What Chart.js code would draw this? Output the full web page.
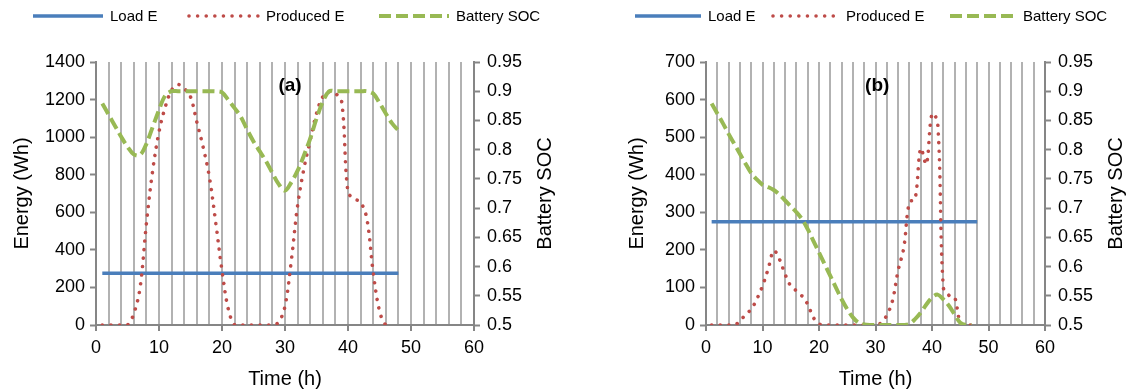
<!DOCTYPE html>
<html>
<head>
<meta charset="utf-8">
<script src="https://cdn.jsdelivr.net/npm/chart.js@4.4.1/dist/chart.umd.min.js"></script>
<style>
  body { margin: 0; background: #fff; }
  .panel { position: absolute; top: 0; height: 392px; }
</style>
</head>
<body>
<div class="panel" style="left:0;width:565px"><canvas id="chartA" width="565" height="392"></canvas></div>
<div class="panel" style="left:565px;width:564px"><canvas id="chartB" width="564" height="392"></canvas></div>
<script>
// x axis labels shown (gridlines every 2 h)
const timeTickLabels = [0, 10, 20, 30, 40, 50, 60];

// panel (a)
const hoursA = [1,2,3,4,5,6,7,8,9,10,11,12,13,14,15,16,17,18,19,20,21,22,23,24,
                25,26,27,28,29,30,31,32,33,34,35,36,37,38,39,40,41,42,43,44,45,46,47,48];
const loadA = [275,275,275,275,275,275,275,275,275,275,275,275,275,275,275,275,275,275,275,275,275,275,275,275,
               275,275,275,275,275,275,275,275,275,275,275,275,275,275,275,275,275,275,275,275,275,275,275,275];
const producedA = [0,0,0,0,0,60,200,540,823,1028,1161,1250,1280,1259,1215,1081,948,787,547,289,84,0,0,0,
                   0,0,0,0,15,100,342,636,832,983,1126,1215,1242,1233,1188,707,672,654,565,280,75,0,0];
const socA = [0.879,0.860,0.841,0.822,0.805,0.792,0.791,0.810,0.839,0.868,0.893,0.900,0.900,0.900,0.900,0.900,0.900,0.900,0.900,0.898,0.885,0.871,0.856,0.834,
              0.814,0.797,0.780,0.760,0.741,0.730,0.744,0.764,0.790,0.819,0.853,0.882,0.900,0.900,0.900,0.900,0.900,0.900,0.900,0.896,0.880,0.862,0.845,0.833];

// panel (b)
const hoursB = [1,2,3,4,5,6,7,8,9,10,11,12,13,14,15,16,17,18,19,20,21,22,23,24,
                25,26,27,28,29,30,31,32,33,34,35,36,37,38,39,40,41,42,43,44,45,46,47,48];
const loadB = [275,275,275,275,275,275,275,275,275,275,275,275,275,275,275,275,275,275,275,275,275,275,275,275,
               275,275,275,275,275,275,275,275,275,275,275,275,275,275,275,275,275,275,275,275,275,275,275,275];
const producedB = [0,0,0,0,0,10,28,42,69,104,149,198,175,135,104,91,77,55,20,3,0,0,0,0,
                   0,0,0,0,0,0,6,26,64,145,205,327,335,470,428,562,540,100,79,74,6,0,0];
const socB = [0.879,0.862,0.845,0.827,0.810,0.793,0.776,0.760,0.749,0.740,0.736,0.731,0.723,0.713,0.703,0.693,0.681,0.664,0.644,0.624,0.604,0.584,0.564,0.544,
              0.527,0.513,0.504,0.501,0.500,0.500,0.500,0.500,0.500,0.500,0.500,0.502,0.510,0.521,0.535,0.547,0.552,0.544,0.533,0.518,0.504,0.500,0.500];

const FONT = '"Liberation Sans", Arial, sans-serif';
Chart.defaults.font.family = FONT;
Chart.defaults.color = '#000';

const AXIS_GRAY = '#868686';
const GRID_GRAY = '#B2B2B2';

function points(xs, ys) {
    return ys.map((y, i) => ({ x: xs[i], y: y }));
}

// legend, panel tag and the right-hand axis title (reads bottom to top)
const sketchExtras = {
    id: 'sketchExtras',
    afterDraw(chart, args, opts) {
        const ctx = chart.ctx;
        const area = chart.chartArea;
        ctx.save();
        ctx.font = '15px ' + FONT;
        ctx.textBaseline = 'middle';
        ctx.textAlign = 'left';
        ctx.fillStyle = '#000';
        chart.data.datasets.forEach((ds, i) => {
            const x0 = opts.legendX[i];
            ctx.beginPath();
            ctx.setLineDash(ds.borderDash || []);
            ctx.lineCap = ds.borderCapStyle || 'butt';
            ctx.lineWidth = ds.borderWidth;
            ctx.strokeStyle = ds.borderColor;
            ctx.moveTo(x0, opts.legendY);
            ctx.lineTo(x0 + opts.legendLen, opts.legendY);
            ctx.stroke();
            ctx.setLineDash([]);
            ctx.fillText(ds.label, x0 + opts.legendLen + 7, opts.legendY + 1);
        });

        ctx.font = 'bold 19px ' + FONT;
        ctx.textAlign = 'center';
        ctx.fillText(opts.tag, chart.scales.x.getPixelForValue(opts.tagAt[0]), chart.scales.y.getPixelForValue(opts.tagAt[1]));

        ctx.font = '20px ' + FONT;
        ctx.translate(area.right + 71, (area.top + area.bottom) / 2);
        ctx.rotate(-Math.PI / 2);
        ctx.fillText('Battery SOC', 0, 0);
        ctx.restore();
    }
};

function makeChart(id, o) {
    return new Chart(document.getElementById(id), {
        type: 'line',
        data: {
            datasets: [
                { label: 'Load E', data: points(o.hours, o.load), yAxisID: 'y', order: 3,
                  borderColor: '#4A7EBB', borderWidth: 3.5 },
                { label: 'Produced E', data: points(o.hours, o.produced), yAxisID: 'y', order: 2,
                  borderColor: '#BE4B48', borderWidth: 3.6, borderDash: [0.01, 8.6], borderCapStyle: 'round' },
                { label: 'Battery SOC', data: points(o.hours, o.soc), yAxisID: 'y2', order: 1,
                  borderColor: '#98B954', borderWidth: 4, borderDash: [12, 5] }
            ]
        },
        options: {
            responsive: false,
            animation: false,
            devicePixelRatio: 1,
            layout: { padding: { left: o.padLeft, top: 62, right: 0, bottom: 0 } },
            elements: { point: { radius: 0 }, line: { tension: 0.35, fill: false } },
            plugins: {
                legend: { display: false },
                tooltip: { enabled: false },
                sketchExtras: { legendX: o.legendX, legendLen: o.legendLen, legendY: 16, tag: o.tag, tagAt: o.tagAt }
            },
            scales: {
                x: {
                    type: 'linear', min: 0, max: 60,
                    afterFit: s => { s.height = 67; },
                    ticks: {
                        stepSize: 2, autoSkip: false, maxRotation: 0, padding: 6,
                        font: { size: 18 },
                        callback: v => timeTickLabels.includes(v) ? String(v) : ''
                    },
                    grid: {
                        color: c => (c.tick && (c.tick.value === 0 || c.tick.value === 60)) ? AXIS_GRAY : GRID_GRAY,
                        lineWidth: 2,
                        tickLength: 6,
                        tickWidth: 2,
                        tickColor: c => (c.tick && timeTickLabels.includes(c.tick.value)) ? AXIS_GRAY : 'rgba(0,0,0,0)'
                    },
                    border: { color: AXIS_GRAY, width: 2 },
                    title: { display: true, text: 'Time (h)', font: { size: 20 }, padding: { top: 0, bottom: 1 } }
                },
                y: {
                    position: 'left', min: 0, max: o.eMax,
                    afterFit: s => { s.width = o.leftWidth; },
                    ticks: { stepSize: o.eStep, padding: 5, font: { size: 18 }, callback: v => String(v) },
                    grid: { drawOnChartArea: false, tickLength: 6, tickWidth: 2, tickColor: AXIS_GRAY },
                    border: { color: AXIS_GRAY, width: 2 },
                    title: { display: true, text: 'Energy (Wh)', font: { size: 20 }, padding: { top: 10, bottom: 0 } }
                },
                y2: {
                    position: 'right', min: 0.5, max: 0.95,
                    afterFit: s => { s.width = o.rightWidth; },
                    ticks: { stepSize: 0.05, padding: 7, font: { size: 18 }, callback: v => String(+v.toFixed(2)) },
                    grid: { drawOnChartArea: false, tickLength: 6, tickWidth: 2, tickColor: AXIS_GRAY },
                    border: { color: AXIS_GRAY, width: 2 }
                }
            }
        },
        plugins: [sketchExtras]
    });
}

makeChart('chartA', {
    hours: hoursA, load: loadA, produced: producedA, soc: socA,
    eMax: 1400, eStep: 200, padLeft: 0, leftWidth: 96, rightWidth: 91,
    legendX: [33, 189, 379], legendLen: 70, tag: '(a)', tagAt: [30.8, 1271]
});

makeChart('chartB', {
    hours: hoursB, load: loadB, produced: producedB, soc: socB,
    eMax: 700, eStep: 100, padLeft: 50, leftWidth: 91, rightWidth: 84,
    legendX: [70, 208, 385], legendLen: 66, tag: '(b)', tagAt: [30.3, 638]
});
</script>
</body>
</html>
